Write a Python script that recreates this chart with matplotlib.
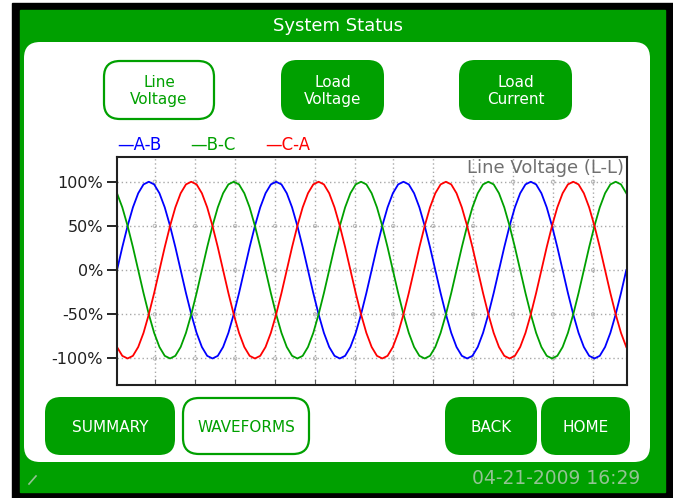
import matplotlib.pyplot as plt
from matplotlib.patches import Rectangle, FancyBboxPatch

# phase angle samples (degrees), 15 deg steps over ~4 cycles
angle_deg = list(range(0, 1441, 15))

# line voltages in % of nominal
v_ab = [0, 26, 50, 71, 87, 97, 100, 97, 87, 71, 50, 26, 0, -26, -50, -71, -87, -97, -100, -97, -87, -71, -50, -26,
        0, 26, 50, 71, 87, 97, 100, 97, 87, 71, 50, 26, 0, -26, -50, -71, -87, -97, -100, -97, -87, -71, -50, -26,
        0, 26, 50, 71, 87, 97, 100, 97, 87, 71, 50, 26, 0, -26, -50, -71, -87, -97, -100, -97, -87, -71, -50, -26,
        0, 26, 50, 71, 87, 97, 100, 97, 87, 71, 50, 26, 0, -26, -50, -71, -87, -97, -100, -97, -87, -71, -50, -26,
        0]
v_bc = [87, 71, 50, 26, 0, -26, -50, -71, -87, -97, -100, -97, -87, -71, -50, -26, 0, 26, 50, 71, 87, 97, 100, 97,
        87, 71, 50, 26, 0, -26, -50, -71, -87, -97, -100, -97, -87, -71, -50, -26, 0, 26, 50, 71, 87, 97, 100, 97,
        87, 71, 50, 26, 0, -26, -50, -71, -87, -97, -100, -97, -87, -71, -50, -26, 0, 26, 50, 71, 87, 97, 100, 97,
        87, 71, 50, 26, 0, -26, -50, -71, -87, -97, -100, -97, -87, -71, -50, -26, 0, 26, 50, 71, 87, 97, 100, 97,
        87]
v_ca = [-87, -97, -100, -97, -87, -71, -50, -26, 0, 26, 50, 71, 87, 97, 100, 97, 87, 71, 50, 26, 0, -26, -50, -71,
        -87, -97, -100, -97, -87, -71, -50, -26, 0, 26, 50, 71, 87, 97, 100, 97, 87, 71, 50, 26, 0, -26, -50, -71,
        -87, -97, -100, -97, -87, -71, -50, -26, 0, 26, 50, 71, 87, 97, 100, 97, 87, 71, 50, 26, 0, -26, -50, -71,
        -87, -97, -100, -97, -87, -71, -50, -26, 0, 26, 50, 71, 87, 97, 100, 97, 87, 71, 50, 26, 0, -26, -50, -71,
        -87]

series_names = ['A-B', 'B-C', 'C-A']
series_colors = ['#0000ff', '#00a000', '#ff0000']

y_ticks = [100, 50, 0, -50, -100]
y_labels = ['100%', '50%', '0%', '-50%', '-100%']
x_grid = [107, 221, 334, 447, 560, 673, 781, 894, 1007, 1120, 1233, 1346]

top_buttons = [('Line\nVoltage', False), ('Load\nVoltage', True), ('Load\nCurrent', True)]
bottom_buttons = [('SUMMARY', True), ('WAVEFORMS', False), ('BACK', True), ('HOME', True)]

GREEN = '#00a000'
FONT = 'DejaVu Sans'

fig = plt.figure(figsize=(6.73, 4.98), dpi=100)

######## screen frame, drawn in pixel units
ui = fig.add_axes([0, 0, 1, 1])
ui.set_xlim(0, 673)
ui.set_ylim(498, 0)
ui.axis('off')
ui.add_patch(Rectangle((12, 3), 661, 495, color='black'))
ui.add_patch(Rectangle((20, 10), 645, 482, color=GREEN))
ui.add_patch(FancyBboxPatch((24, 42), 626, 420, boxstyle='round,pad=0,rounding_size=16',
                            fc='white', ec='none'))
ui.text(338, 26, 'System Status', color='white', fontsize=13, family=FONT,
        ha='center', va='center')
ui.text(640, 478, '04-21-2009 16:29', color='#93c393', fontsize=13.5, family=FONT,
        ha='right', va='center')
ui.plot([29, 36], [484, 476], color='#93c393', lw=1.2)

def button(x, y, w, h, label, filled, size):
    if filled:
        ui.add_patch(FancyBboxPatch((x, y), w, h, boxstyle='round,pad=0,rounding_size=16',
                                    fc=GREEN, ec='none'))
        col = 'white'
    else:
        ui.add_patch(FancyBboxPatch((x + 1, y + 1), w - 2, h - 2,
                                    boxstyle='round,pad=0,rounding_size=16',
                                    fc='white', ec=GREEN, lw=1.6))
        col = GREEN
    ui.text(x + w / 2, y + h / 2 + 1, label, color=col, fontsize=size, family=FONT,
            ha='center', va='center', linespacing=1.1)

top_x = [103, 281, 459]
top_w = [112, 103, 113]
for (lab, filled), bx, bw in zip(top_buttons, top_x, top_w):
    button(bx, 60, bw, 60, lab, filled, 11)

bot_x = [45, 182, 445, 541]
bot_w = [130, 128, 92, 89]
for (lab, filled), bx, bw in zip(bottom_buttons, bot_x, bot_w):
    button(bx, 397, bw, 58, lab, filled, 11)

######## the waveform chart
ax = fig.add_axes([117 / 673, (498 - 385) / 498, 510 / 673, 228 / 498])
for vals, name, col in zip([v_ab, v_bc, v_ca], series_names, series_colors):
    ax.plot(angle_deg, vals, color=col, lw=1.3, label=name)

ax.set_xlim(0, 1442)
ax.set_ylim(-130, 128)
ax.set_xticks(x_grid)
ax.set_xticklabels([])
ax.set_yticks(y_ticks)
ax.set_yticklabels(y_labels, fontsize=11.5, family=FONT, color='#202020')
ax.tick_params(axis='x', direction='in', length=4, width=0.8, color='#606060')
ax.tick_params(axis='y', direction='out', length=7, width=1.2, pad=3)
ax.grid(True, color='#a8a8a8', linestyle=(0, (1, 2)), lw=1.0)
ax.set_axisbelow(True)
for s in ax.spines.values():
    s.set_color('#202020')
    s.set_linewidth(1.5)

# little rings where the grid lines cross
gx = [x for x in x_grid for _ in y_ticks]
gy = [y for _ in x_grid for y in y_ticks]
ax.scatter(gx, gy, s=6, facecolors='none', edgecolors='#b0b0b0', linewidths=0.6, zorder=1)

ax.text(0.995, 0.99, 'Line Voltage (L-L)', transform=ax.transAxes, ha='right', va='top',
        fontsize=13, family=FONT, color='#707070')

# legend above the plot frame
leg_x = [117, 190, 265]
for name, col, lx in zip(series_names, series_colors, leg_x):
    ui.text(lx, 145, '\u2014' + name, color=col, fontsize=12, family=FONT,
            ha='left', va='center')

fig.savefig('out.png', dpi=100)
